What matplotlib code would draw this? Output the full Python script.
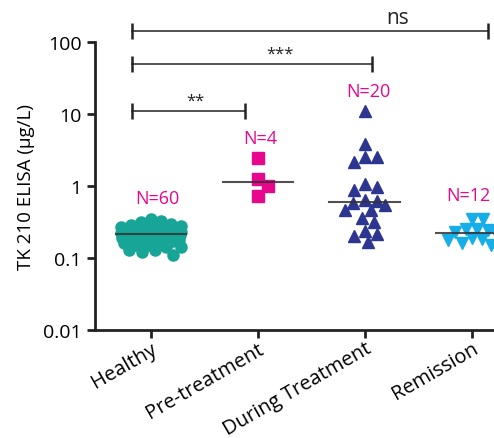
import numpy as np
import matplotlib
matplotlib.use("Agg")
import matplotlib.pyplot as plt

plt.rcParams['font.family'] = ['Open Sans', 'DejaVu Sans']

groups = ["Healthy", "Pre-treatment", "During Treatment", "Remission"]
counts = ["N=60", "N=4", "N=20", "N=12"]

healthy = [0.35, 0.33, 0.32, 0.30, 0.29, 0.28, 0.27, 0.26, 0.26, 0.25,
           0.25, 0.24, 0.24, 0.24, 0.23, 0.23, 0.23, 0.23, 0.22, 0.22,
           0.22, 0.22, 0.22, 0.22, 0.22, 0.22, 0.22, 0.22, 0.22, 0.22,
           0.21, 0.21, 0.21, 0.21, 0.21, 0.20, 0.20, 0.20, 0.20, 0.20,
           0.19, 0.19, 0.19, 0.19, 0.18, 0.18, 0.18, 0.17, 0.17, 0.17,
           0.16, 0.16, 0.15, 0.15, 0.14, 0.14, 0.13, 0.13, 0.12, 0.11]
pre = [2.47, 1.26, 1.0, 0.73]
during = [11.0, 3.87, 2.53, 2.53, 2.15, 0.97, 1.05, 0.87, 0.63, 0.58,
          0.54, 0.62, 0.47, 0.46, 0.36, 0.316, 0.237, 0.213, 0.20, 0.167]
remission = [0.35, 0.35, 0.242, 0.255, 0.25, 0.23, 0.176, 0.186, 0.15, 0.19,
             0.16, 0.22]

data = [healthy, pre, during, remission]
colors = ["#16a596", "#e8068c", "#2c3590", "#16aee8"]
markers = ["o", "s", "^", "v"]
msizes = [8, 8.5, 9, 9]

# significance brackets: (left x, right x, y level, label, label x)
brackets = [(-0.18, 0.88, 11, "**", 0.42),
            (-0.18, 2.07, 49, "***", 1.21),
            (-0.18, 3.15, 142, "ns", 2.31)]

fig = plt.figure(figsize=(4.94, 4.39), dpi=100)
ax = fig.add_axes([95/494, 108/439, 430/494, 288/439])
ax.set_yscale("log")
ax.set_ylim(0.01, 100)
ax.set_xlim(-0.523, 3.5)

px_per_unit = 107.0   # pixels per category unit
px_per_dec = 72.0     # pixels per decade


def swarm(vals, mind, maxw):
    # beeswarm in pixel space, limited to +-maxw, overlap allowed when full
    ys = np.log10(vals) * px_per_dec
    order = np.argsort(-ys)
    placed = []
    xs = np.zeros(len(vals))
    cands = [0.0]
    for k in range(1, int(maxw) + 1):
        cands += [k, -k]
    for i in order:
        best, bestd = 0.0, -1
        for cx in cands:
            d = min([np.hypot(cx - px, ys[i] - py) for px, py in placed] or [1e9])
            if d >= mind:
                best = cx
                break
            if d > bestd:
                best, bestd = cx, d
        placed.append((best, ys[i]))
        xs[i] = best
    return xs / px_per_unit


spacing = [10, 12, 12, 11]
widths = [30, 20, 20, 24]
for i, vals in enumerate(data):
    offs = swarm(vals, spacing[i], widths[i])
    ax.plot(i + offs, vals, linestyle="none", marker=markers[i], ms=msizes[i],
            color=colors[i], mec=colors[i], clip_on=False, zorder=3)
    med = np.median(vals)
    ax.plot([i - 0.33, i + 0.33], [med, med], color="#333333", lw=1.5,
            alpha=0.85, zorder=4, clip_on=False)

label_y = [0.68, 4.6, 21, 0.75]
label_dx = [0.06, 0.02, 0.03, -0.03]
for i, c in enumerate(counts):
    ax.text(i + label_dx[i], label_y[i], c, color="#e8068c", fontsize=13,
            ha="center", va="center")

for x0, x1, y, lab, lx in brackets:
    ax.plot([x0, x1], [y, y], color="#444444", lw=1.3, clip_on=False, zorder=5)
    ax.plot([x0, x1], [y, y], linestyle="none", marker="|", ms=11, mew=1.8,
            color="#222222", clip_on=False, zorder=5)
    ax.annotate(lab, (lx, y), xytext=(0, 2), textcoords="offset points",
                fontsize=15 if lab == "ns" else 12, ha="center", va="bottom",
                color="#222222", annotation_clip=False)

ax.set_yticks([0.01, 0.1, 1, 10, 100])
ax.set_yticklabels(["0.01", "0.1", "1", "10", "100"], fontsize=14)
ax.minorticks_off()
ax.set_xticks(range(4))
ax.set_xticklabels(groups, rotation=30, ha="right", rotation_mode="anchor", fontsize=14.5)
ax.tick_params(axis="both", length=6, width=2, direction="out", color="#222222")
ax.tick_params(axis="x", pad=0)
ax.set_ylabel("TK 210 ELISA (µg/L)", fontsize=13.5, labelpad=6)

for s in ["top", "right"]:
    ax.spines[s].set_visible(False)
for s in ["left", "bottom"]:
    ax.spines[s].set_linewidth(2)
    ax.spines[s].set_color("#222222")

fig.savefig("out.png", dpi=100)
